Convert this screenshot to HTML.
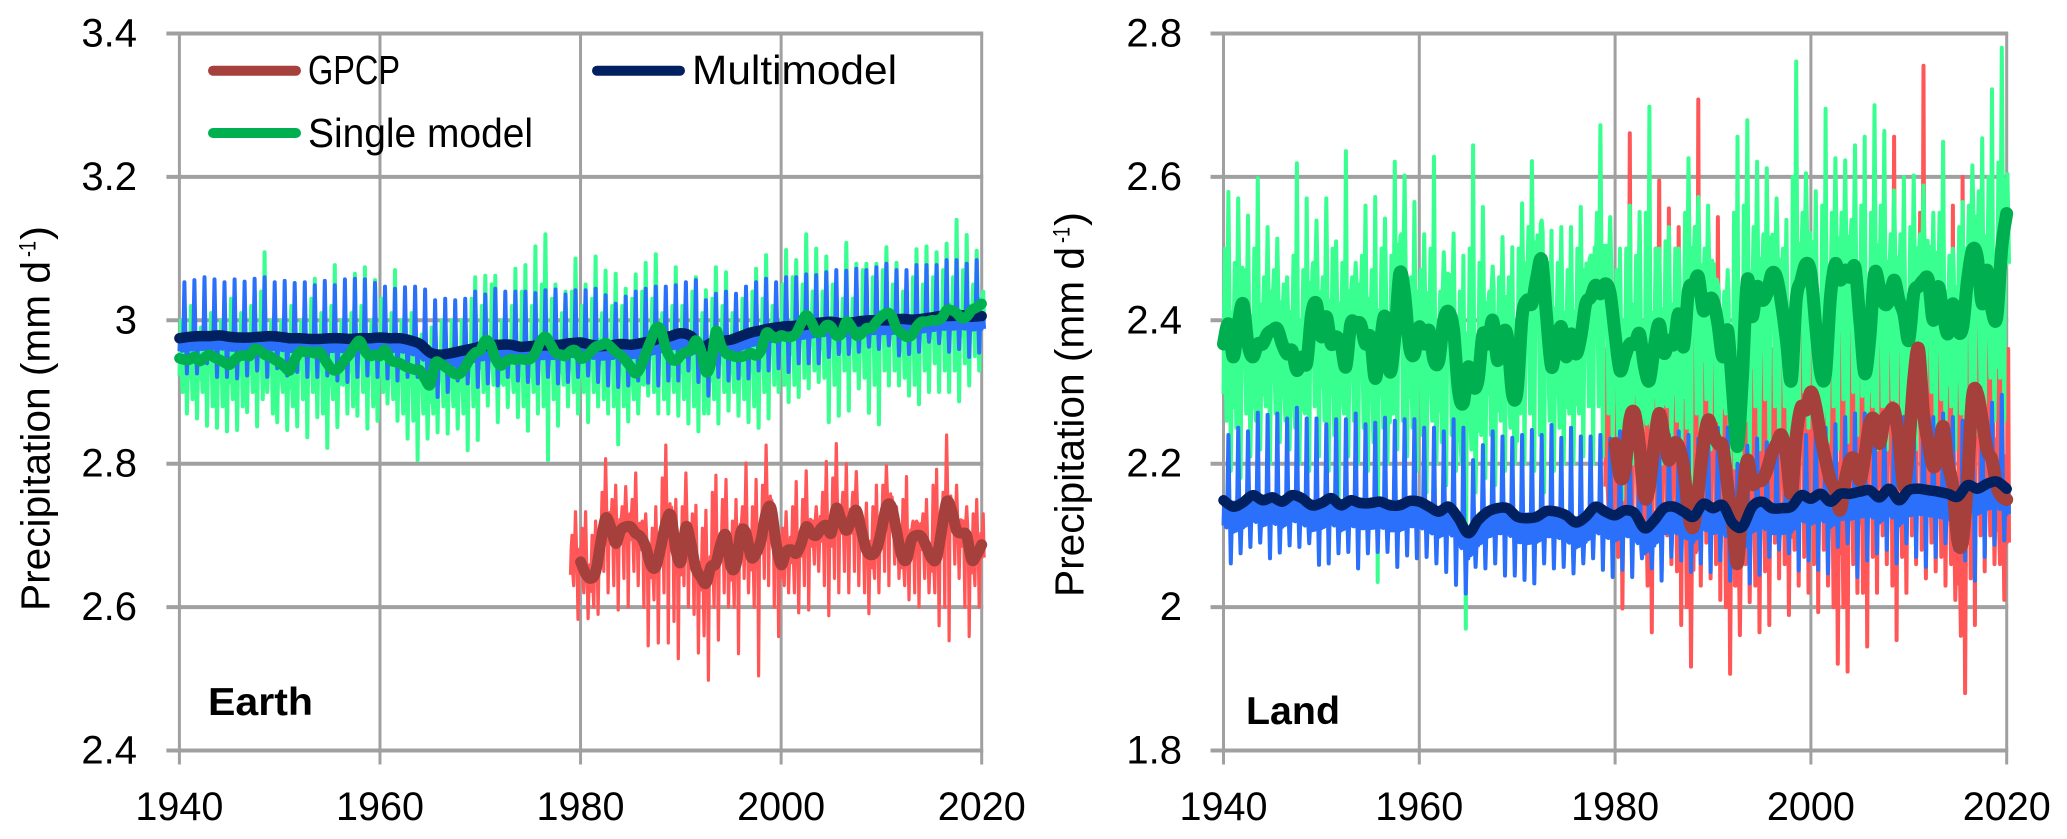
<!DOCTYPE html>
<html lang="en">
<head>
<meta charset="utf-8">
<title>Precipitation: Earth and Land</title>
<style>
html,body{margin:0;padding:0;background:#fff;}
svg{display:block;}
text{font-family:"Liberation Sans",Arial,sans-serif;fill:#000;}
</style>
</head>
<body>
<svg id="chart" xmlns="http://www.w3.org/2000/svg" width="2067" height="839" viewBox="0 0 2067 839">
  <g id="earth-panel"></g>
  <g id="land-panel"></g>
  <g>
    <line x1="213" y1="70.7" x2="296" y2="70.7" stroke="#A5403C" stroke-width="10" stroke-linecap="round"/>
    <text x="308" y="84" font-size="41" textLength="92" lengthAdjust="spacingAndGlyphs">GPCP</text>
    <line x1="597" y1="70.7" x2="680" y2="70.7" stroke="#002060" stroke-width="10" stroke-linecap="round"/>
    <text x="692" y="84" font-size="41" textLength="205" lengthAdjust="spacingAndGlyphs">Multimodel</text>
    <line x1="213" y1="133" x2="296" y2="133" stroke="#00B050" stroke-width="10" stroke-linecap="round"/>
    <text x="308" y="147" font-size="41" textLength="225" lengthAdjust="spacingAndGlyphs">Single model</text>
  </g>
  <text x="208" y="715" font-size="39" font-weight="bold" textLength="105" lengthAdjust="spacingAndGlyphs">Earth</text>
  <text x="1246" y="724" font-size="39" font-weight="bold" textLength="94" lengthAdjust="spacingAndGlyphs">Land</text>
  <g transform="translate(49.5,611) rotate(-90)">
    <text x="0" y="0" font-size="41" textLength="350" lengthAdjust="spacingAndGlyphs">Precipitation (mm d</text>
    <text x="354" y="-14" font-size="24" textLength="16" lengthAdjust="spacingAndGlyphs">-1</text>
    <text x="371" y="0" font-size="41" textLength="14" lengthAdjust="spacingAndGlyphs">)</text>
  </g>
  <g transform="translate(1083.5,597) rotate(-90)">
    <text x="0" y="0" font-size="41" textLength="350" lengthAdjust="spacingAndGlyphs">Precipitation (mm d</text>
    <text x="354" y="-14" font-size="24" textLength="16" lengthAdjust="spacingAndGlyphs">-1</text>
    <text x="371" y="0" font-size="41" textLength="14" lengthAdjust="spacingAndGlyphs">)</text>
  </g>
</svg>
<script>
// ---- Axis tick labels ----
const xTickYears = [1940, 1960, 1980, 2000, 2020];
const earthYTicks = [2.4, 2.6, 2.8, 3, 3.2, 3.4];
const landYTicks = [1.8, 2, 2.2, 2.4, 2.6, 2.8];

// ---- EARTH: smoothed series ----
// Multimodel, one value per year from 1940
const earthMultimodelSmooth = [
2.975,2.977,2.978,2.978,2.979,2.977,2.976,2.976,2.977,2.978,
2.977,2.975,2.975,2.974,2.974,2.975,2.975,2.974,2.975,2.975,
2.976,2.975,2.975,2.972,2.967,2.955,2.952,2.954,2.957,2.96,
2.963,2.965,2.966,2.966,2.963,2.964,2.965,2.965,2.966,2.968,
2.969,2.966,2.964,2.965,2.967,2.966,2.968,2.971,2.975,2.978,
2.982,2.978,2.962,2.968,2.971,2.973,2.978,2.983,2.986,2.989,
2.991,2.992,2.993,2.995,2.997,2.998,2.996,2.997,2.999,3.0,
3.0,3.0,3.002,3.001,3.002,3.004,3.006,3.006,3.007,3.005,3.006];
// Single model, two values per year from 1940
const earthSingleSmooth = [
2.947,2.945,2.945,2.949,2.943,2.948,2.952,2.948,2.945,2.941,2.938,2.945,2.95,2.951,2.95,2.96,2.958,2.952,2.95,2.945,
2.941,2.935,2.93,2.945,2.956,2.956,2.956,2.954,2.956,2.945,2.935,2.93,2.935,2.945,2.953,2.965,2.971,2.957,2.95,2.952,
2.95,2.959,2.945,2.942,2.94,2.936,2.933,2.931,2.93,2.918,2.91,2.94,2.94,2.935,2.93,2.925,2.926,2.935,2.947,2.955,
2.958,2.972,2.967,2.947,2.937,2.942,2.946,2.945,2.946,2.945,2.946,2.955,2.97,2.977,2.967,2.955,2.952,2.95,2.957,2.958,
2.947,2.949,2.956,2.963,2.965,2.968,2.963,2.956,2.951,2.944,2.935,2.926,2.935,2.954,2.972,2.989,2.987,2.961,2.947,2.944,
2.951,2.956,2.958,2.972,2.958,2.928,2.94,2.985,2.965,2.954,2.951,2.949,2.949,2.951,2.954,2.951,2.958,2.982,2.979,2.975,
2.979,2.977,2.977,2.982,2.996,3.007,2.998,2.984,2.984,2.993,2.991,2.979,2.981,2.998,2.991,2.979,2.981,2.989,2.989,2.998,
3.005,3.01,3.007,2.989,2.982,2.977,2.979,2.991,2.998,2.998,3.0,3.0,3.003,3.014,3.014,3.01,3.003,3.005,3.014,3.018,3.023];
// GPCP, two values per year from 1980
const earthGpcpSmooth = [
2.663,2.647,2.64,2.649,2.689,2.724,2.712,2.689,2.707,2.712,2.712,2.703,2.698,2.684,2.659,2.656,2.684,2.717,2.728,2.68,
2.663,2.712,2.689,2.654,2.642,2.633,2.656,2.661,2.689,2.7,2.656,2.659,2.705,2.703,2.67,2.675,2.694,2.731,2.738,2.689,
2.659,2.677,2.68,2.675,2.689,2.712,2.703,2.7,2.71,2.714,2.703,2.738,2.721,2.707,2.721,2.735,2.707,2.68,2.673,2.68,
2.707,2.74,2.74,2.707,2.673,2.666,2.694,2.7,2.698,2.684,2.668,2.668,2.707,2.747,2.735,2.707,2.703,2.7,2.666,2.673,2.687];

// ---- EARTH: monthly extremes, per year ----
const earthMultimodelHigh = [
3.053,3.056,3.06,3.057,3.053,3.057,3.054,3.058,3.06,3.053,3.055,3.052,3.053,3.049,3.055,3.049,3.057,3.058,3.057,3.052,
3.047,3.044,3.046,3.047,3.043,3.028,3.03,3.028,3.03,3.04,3.036,3.044,3.04,3.04,3.04,3.038,3.042,3.043,3.036,3.042,
3.042,3.044,3.035,3.023,3.033,3.04,3.044,3.047,3.047,3.049,3.053,3.056,3.028,3.037,3.04,3.037,3.047,3.053,3.058,3.053,
3.06,3.06,3.064,3.063,3.067,3.07,3.069,3.072,3.07,3.074,3.079,3.07,3.07,3.077,3.077,3.077,3.084,3.084,3.079,3.084,3.077];
const earthMultimodelLow = [
2.926,2.926,2.94,2.921,2.921,2.919,2.923,2.93,2.921,2.933,2.923,2.928,2.921,2.921,2.923,2.916,2.914,2.921,2.923,2.921,
2.919,2.916,2.921,2.921,2.914,2.893,2.9,2.916,2.912,2.907,2.912,2.909,2.921,2.916,2.914,2.912,2.921,2.912,2.914,2.921,
2.923,2.914,2.909,2.907,2.909,2.916,2.913,2.909,2.916,2.916,2.93,2.914,2.895,2.921,2.916,2.919,2.919,2.93,2.93,2.933,
2.928,2.94,2.94,2.94,2.949,2.953,2.953,2.956,2.963,2.96,2.965,2.951,2.953,2.956,2.97,2.968,2.956,2.96,2.949,2.955,2.97];
const earthSingleHigh = [
3.02,3.0,3.0,3.016,3.012,3.005,3.014,3.033,3.095,3.0,3.01,3.0,3.0,3.058,3.02,3.077,3.02,3.065,3.074,3.056,
3.02,3.07,3.02,3.0,3.0,3.005,3.0,3.0,3.024,3.06,3.062,3.062,3.004,3.072,3.077,3.103,3.12,3.05,3.04,3.086,
3.05,3.089,3.069,3.065,3.044,3.064,3.08,3.092,3.02,3.074,3.03,3.06,3.042,3.074,3.067,3.02,3.02,3.072,3.091,3.037,
3.098,3.084,3.12,3.1,3.089,3.04,3.108,3.079,3.079,3.079,3.102,3.08,3.047,3.099,3.103,3.095,3.107,3.14,3.119,3.097,3.06];
const earthSingleHigh2 = [
3.0,3.02,2.99,3.01,3.0,3.03,3.01,3.02,3.04,3.0,3.0,3.02,3.0,3.03,3.01,3.02,3.0,3.01,3.02,3.0,
3.03,3.01,3.0,3.01,2.98,2.99,3.0,3.0,3.0,3.03,3.02,3.05,3.0,3.02,3.04,3.02,3.05,3.03,3.01,3.04,
3.02,3.03,3.01,3.02,3.02,3.03,3.04,3.03,3.01,3.02,3.02,3.04,3.01,3.03,3.02,3.01,3.03,3.04,3.03,3.02,
3.05,3.06,3.05,3.04,3.04,3.05,3.03,3.03,3.07,3.06,3.07,3.05,3.04,3.06,3.05,3.06,3.07,3.06,3.07,3.05,3.04];
const earthSingleLow = [
2.87,2.863,2.853,2.85,2.845,2.847,2.872,2.852,2.9,2.858,2.847,2.852,2.837,2.865,2.822,2.851,2.87,2.867,2.849,2.86,
2.884,2.86,2.835,2.805,2.835,2.844,2.842,2.849,2.819,2.833,2.881,2.858,2.879,2.865,2.846,2.87,2.805,2.853,2.88,2.87,
2.858,2.88,2.87,2.827,2.859,2.87,2.895,2.87,2.87,2.867,2.856,2.845,2.87,2.856,2.874,2.867,2.858,2.85,2.863,2.9,
2.886,2.893,2.905,2.914,2.858,2.867,2.874,2.905,2.871,2.855,2.909,2.909,2.895,2.883,2.9,2.9,2.9,2.887,2.909,2.93,2.937];
const earthSingleLow2 = [
2.9,2.89,2.9,2.88,2.88,2.89,2.88,2.9,2.89,2.87,2.9,2.88,2.89,2.9,2.87,2.89,2.91,2.88,2.9,2.88,
2.9,2.89,2.87,2.86,2.87,2.87,2.88,2.88,2.87,2.88,2.9,2.91,2.91,2.9,2.88,2.9,2.88,2.89,2.91,2.9,
2.9,2.9,2.89,2.88,2.88,2.89,2.91,2.9,2.89,2.9,2.89,2.88,2.87,2.89,2.9,2.9,2.89,2.88,2.9,2.91,
2.91,2.91,2.92,2.93,2.92,2.91,2.93,2.93,2.92,2.91,2.93,2.93,2.92,2.91,2.93,2.94,2.93,2.93,2.94,2.95,2.95];
// GPCP extremes, per year from 1979
const earthGpcpHigh = [
2.733,2.733,2.72,2.807,2.77,2.768,2.787,2.73,2.74,2.826,2.75,2.787,2.742,2.735,2.784,2.778,2.75,2.801,2.778,2.826,2.73,
2.733,2.775,2.79,2.74,2.803,2.828,2.8,2.789,2.745,2.77,2.797,2.74,2.782,2.72,2.75,2.792,2.84,2.77,2.74,2.75,2.75];
const earthGpcpHigh2 = [
2.7,2.71,2.7,2.76,2.75,2.74,2.75,2.72,2.71,2.78,2.72,2.74,2.73,2.71,2.76,2.75,2.72,2.74,2.74,2.77,2.72,
2.71,2.74,2.75,2.72,2.76,2.78,2.76,2.76,2.72,2.74,2.77,2.73,2.75,2.72,2.73,2.77,2.76,2.73,2.72,2.73,2.73];
const earthGpcpLow = [
2.583,2.584,2.59,2.62,2.596,2.6,2.63,2.546,2.55,2.55,2.528,2.6,2.536,2.498,2.554,2.6,2.535,2.62,2.504,2.63,2.559,
2.62,2.592,2.596,2.65,2.588,2.62,2.62,2.63,2.591,2.62,2.63,2.64,2.61,2.6,2.62,2.574,2.553,2.64,2.559,2.6,2.603];
const earthGpcpLow2 = [
2.63,2.62,2.6,2.65,2.63,2.64,2.65,2.6,2.61,2.62,2.58,2.63,2.59,2.56,2.6,2.62,2.6,2.64,2.6,2.64,2.6,
2.63,2.62,2.63,2.66,2.63,2.64,2.65,2.65,2.62,2.64,2.65,2.66,2.63,2.62,2.64,2.62,2.6,2.66,2.6,2.63,2.62];

// ---- LAND: smoothed series ----
const landMultimodelSmooth = [
2.149,2.14,2.146,2.156,2.149,2.153,2.147,2.156,2.152,2.142,2.145,2.152,2.142,2.149,2.145,2.145,2.147,2.142,2.142,2.148,
2.147,2.14,2.133,2.14,2.124,2.103,2.121,2.133,2.138,2.138,2.126,2.124,2.126,2.134,2.133,2.128,2.118,2.126,2.14,2.133,
2.128,2.135,2.131,2.11,2.121,2.138,2.14,2.133,2.126,2.144,2.138,2.142,2.117,2.112,2.14,2.147,2.138,2.138,2.14,2.156,
2.151,2.158,2.147,2.158,2.158,2.161,2.163,2.153,2.165,2.149,2.163,2.165,2.163,2.161,2.158,2.154,2.17,2.165,2.172,2.175,2.165];
const landSingleSmooth = [
2.367,2.395,2.349,2.395,2.423,2.367,2.349,2.367,2.367,2.381,2.386,2.388,2.367,2.353,2.358,2.33,2.349,2.34,2.409,2.423,
2.377,2.405,2.367,2.377,2.367,2.335,2.395,2.395,2.395,2.367,2.377,2.319,2.367,2.405,2.328,2.377,2.465,2.437,2.363,2.353,
2.391,2.367,2.386,2.344,2.344,2.4,2.412,2.386,2.302,2.285,2.335,2.307,2.316,2.381,2.367,2.4,2.344,2.381,2.377,2.298,
2.302,2.405,2.428,2.423,2.46,2.484,2.405,2.335,2.367,2.391,2.349,2.381,2.353,2.377,2.423,2.432,2.449,2.437,2.451,2.437,
2.38,2.33,2.349,2.367,2.367,2.381,2.335,2.316,2.363,2.395,2.354,2.372,2.367,2.409,2.363,2.442,2.447,2.461,2.414,2.428,
2.428,2.395,2.349,2.386,2.302,2.224,2.32,2.456,2.405,2.447,2.428,2.437,2.465,2.46,2.423,2.372,2.316,2.428,2.456,2.479,
2.465,2.391,2.326,2.326,2.433,2.479,2.456,2.47,2.46,2.474,2.4,2.326,2.372,2.465,2.447,2.423,2.428,2.456,2.428,2.409,
2.372,2.437,2.447,2.456,2.456,2.4,2.447,2.409,2.381,2.423,2.386,2.39,2.456,2.498,2.488,2.423,2.47,2.414,2.405,2.502,2.549];
const landGpcpSmooth = [
2.228,2.182,2.191,2.261,2.27,2.224,2.154,2.168,2.228,2.27,2.238,2.205,2.228,2.224,2.196,2.13,2.112,2.163,2.224,2.261,
2.242,2.228,2.224,2.168,2.117,2.061,2.149,2.205,2.172,2.177,2.177,2.191,2.214,2.228,2.24,2.21,2.158,2.238,2.279,2.275,
2.3,2.279,2.238,2.205,2.177,2.163,2.135,2.177,2.205,2.205,2.177,2.21,2.256,2.261,2.228,2.261,2.27,2.275,2.233,2.168,
2.224,2.317,2.36,2.27,2.228,2.196,2.21,2.252,2.2,2.168,2.093,2.093,2.177,2.293,2.298,2.261,2.219,2.205,2.168,2.154,2.15];

// ---- LAND: monthly extremes, per year ----
const landMultimodelHigh = [
2.24,2.25,2.245,2.271,2.268,2.27,2.263,2.278,2.263,2.263,2.255,2.262,2.262,2.27,2.255,2.257,2.264,2.26,2.262,2.262,
2.25,2.25,2.245,2.262,2.25,2.205,2.226,2.245,2.238,2.236,2.24,2.247,2.24,2.254,2.236,2.25,2.238,2.238,2.24,2.235,
2.245,2.245,2.23,2.22,2.235,2.24,2.245,2.24,2.235,2.25,2.25,2.25,2.2,2.225,2.235,2.23,2.24,2.24,2.245,2.24,
2.25,2.25,2.255,2.265,2.27,2.27,2.268,2.262,2.262,2.265,2.27,2.27,2.265,2.27,2.265,2.26,2.275,2.29,2.285,2.296,2.27];
const landMultimodelLow = [
2.061,2.075,2.084,2.09,2.068,2.076,2.086,2.084,2.089,2.059,2.061,2.075,2.077,2.054,2.075,2.077,2.077,2.056,2.072,2.068,
2.07,2.061,2.049,2.031,2.019,2.056,2.054,2.061,2.044,2.044,2.038,2.033,2.061,2.054,2.056,2.047,2.061,2.068,2.052,2.042,
2.052,2.042,2.068,2.054,2.037,2.07,2.065,2.049,2.061,2.049,2.065,2.037,2.07,2.033,2.045,2.07,2.08,2.075,2.051,2.065,
2.052,2.047,2.084,2.089,2.042,2.065,2.075,2.08,2.061,2.089,2.07,2.056,2.07,2.089,2.08,2.065,2.037,2.07,2.087,2.093,2.1];
const landSingleHigh = [
2.579,2.57,2.546,2.598,2.53,2.514,2.46,2.619,2.57,2.539,2.57,2.51,2.636,2.48,2.56,2.572,2.542,2.621,2.602,2.565,
2.52,2.628,2.495,2.521,2.49,2.644,2.558,2.475,2.516,2.502,2.563,2.622,2.539,2.525,2.53,2.53,2.558,2.49,2.672,2.544,
2.5,2.56,2.551,2.698,2.5,2.53,2.5,2.626,2.572,2.56,2.45,2.47,2.656,2.679,2.621,2.612,2.57,2.54,2.761,2.605,
2.58,2.695,2.626,2.623,2.644,2.656,2.7,2.664,2.581,2.6,2.602,2.588,2.55,2.649,2.5,2.565,2.616,2.654,2.722,2.78,2.63];
const landSingleHigh2 = [
2.5,2.48,2.47,2.5,2.46,2.47,2.45,2.49,2.47,2.48,2.46,2.5,2.48,2.46,2.49,2.47,2.5,2.49,2.52,2.46,
2.47,2.5,2.44,2.46,2.44,2.5,2.48,2.44,2.46,2.46,2.5,2.53,2.5,2.48,2.48,2.47,2.5,2.47,2.55,2.5,
2.47,2.5,2.49,2.55,2.5,2.51,2.5,2.55,2.53,2.5,2.45,2.44,2.55,2.56,2.53,2.52,2.51,2.5,2.6,2.55,
2.5,2.56,2.55,2.55,2.54,2.56,2.55,2.56,2.52,2.52,2.53,2.52,2.5,2.55,2.49,2.53,2.56,2.58,2.6,2.62,2.55];
const landSingleLow = [
2.19,2.18,2.21,2.22,2.2,2.23,2.22,2.2,2.19,2.21,2.19,2.1,2.21,2.2,2.19,2.035,2.2,2.22,2.21,2.19,
2.16,2.2,2.17,2.19,1.97,2.16,2.18,2.17,2.19,2.2,2.2,2.19,2.16,2.19,2.2,2.2,2.21,2.2,2.21,2.2,
2.15,2.2,2.21,2.19,2.2,2.22,2.2,2.16,2.2,2.22,2.2,2.2,2.15,2.2,2.22,2.23,2.22,2.22,2.2,2.25,
2.24,2.23,2.22,2.23,2.24,2.24,2.22,2.22,2.24,2.2,2.22,2.24,2.24,2.24,2.22,2.2,2.24,2.25,2.26,2.26,2.3];
const landSingleLow2 = [
2.26,2.25,2.27,2.26,2.28,2.27,2.26,2.25,2.27,2.28,2.26,2.24,2.27,2.26,2.25,2.23,2.25,2.27,2.26,2.25,
2.24,2.26,2.23,2.24,2.2,2.22,2.24,2.24,2.26,2.25,2.27,2.27,2.24,2.26,2.25,2.27,2.27,2.28,2.28,2.27,
2.24,2.26,2.27,2.26,2.27,2.28,2.26,2.25,2.27,2.29,2.26,2.27,2.22,2.26,2.28,2.29,2.28,2.28,2.27,2.3,
2.29,2.29,2.28,2.29,2.3,2.3,2.28,2.28,2.29,2.27,2.28,2.3,2.3,2.29,2.28,2.27,2.3,2.31,2.32,2.32,2.36];
const landGpcpHigh = [
2.4,2.48,2.661,2.535,2.45,2.595,2.556,2.53,2.48,2.708,2.47,2.544,2.46,2.46,2.56,2.47,2.56,2.42,2.5,2.635,2.59,
2.535,2.45,2.42,2.46,2.5,2.48,2.5,2.6,2.656,2.48,2.5,2.755,2.5,2.5,2.56,2.6,2.58,2.58,2.55,2.45,2.4];
const landGpcpHigh2 = [
2.36,2.4,2.5,2.45,2.38,2.5,2.47,2.45,2.4,2.53,2.4,2.45,2.38,2.4,2.46,2.38,2.44,2.36,2.42,2.5,2.47,
2.44,2.38,2.37,2.4,2.42,2.4,2.42,2.46,2.5,2.42,2.43,2.55,2.42,2.42,2.46,2.47,2.47,2.47,2.45,2.38,2.36];
const landGpcpLow = [
2.1,1.998,2.08,2.07,1.965,2.05,2.06,1.975,1.917,2.03,2.04,2.01,1.907,1.961,2.007,1.965,1.975,2.04,1.989,2.03,2.02,
1.993,2.03,1.921,1.91,2.02,1.945,2.02,2.06,1.954,2.02,2.06,2.04,2.05,2.03,2.01,1.88,1.975,2.05,2.06,2.01,2.03];
const landGpcpLow2 = [
2.14,2.07,2.12,2.12,2.03,2.1,2.1,2.05,2.0,2.08,2.09,2.06,2.0,2.03,2.06,2.03,2.05,2.09,2.06,2.08,2.07,
2.06,2.08,2.0,2.0,2.06,2.02,2.07,2.1,2.03,2.07,2.1,2.08,2.09,2.07,2.06,1.96,2.04,2.1,2.1,2.06,2.08];

const SVGNS = 'http://www.w3.org/2000/svg';

function makeAxes(left, right, top, bottom, yMin, yMax) {
  return {
    x: function (year) { return left + (year - 1940) * (right - left) / 80; },
    y: function (v) { return bottom - (v - yMin) * (bottom - top) / (yMax - yMin); }
  };
}

function valueAt(arr, start, step, t) {
  const p = (t - start) / step;
  if (p <= 0) return arr[0];
  if (p >= arr.length - 1) return arr[arr.length - 1];
  const i = Math.floor(p);
  return arr[i] + (arr[i + 1] - arr[i]) * (p - i);
}

// Thin monthly trace: fills a band around the smooth series and spikes to the annual extremes.
function thinPath(ax, s) {
  let d = '';
  let first = true;
  for (let i = 0; i < s.high.length; i++) {
    const yr = s.startYear + i;
    const steps = [
      [0.00, 'lo'], [0.07, 'hi'], [0.15, 'h2'], [0.24, 'lo'], [0.32, 'l2'], [0.40, 'hi'],
      [0.50, 'h1'], [0.60, 'hi'], [0.68, 'lo'], [0.75, 'l1'], [0.83, 'lo'], [0.92, 'hi']
    ];
    for (let k = 0; k < steps.length; k++) {
      const t = yr + steps[k][0];
      if (yr === 2020 && steps[k][0] > 0.25) continue;
      const m = valueAt(s.mean, s.meanStart, s.meanStep, t);
      const hi = m + s.up;
      const lo = m - s.down;
      const kind = steps[k][1];
      let v = hi;
      if (kind === 'lo') v = lo;
      if (kind === 'h1') v = s.high[i];
      if (kind === 'l1') v = s.low[i];
      if (kind === 'h2') v = s.high2 ? s.high2[i] : hi;
      if (kind === 'l2') v = s.low2 ? s.low2[i] : lo;
      d += (first ? 'M' : 'L') + ax.x(t).toFixed(1) + ' ' + ax.y(v).toFixed(1);
      first = false;
    }
  }
  return d;
}

// Thick smoothed trace, drawn through its values with a Catmull-Rom curve.
function smoothPath(ax, arr, start, step) {
  const pts = arr.map(function (v, i) { return [ax.x(start + i * step), ax.y(v)]; });
  let d = 'M' + pts[0][0].toFixed(1) + ' ' + pts[0][1].toFixed(1);
  for (let i = 0; i < pts.length - 1; i++) {
    const p0 = pts[Math.max(0, i - 1)], p1 = pts[i], p2 = pts[i + 1], p3 = pts[Math.min(pts.length - 1, i + 2)];
    const c1x = p1[0] + (p2[0] - p0[0]) / 6, c1y = p1[1] + (p2[1] - p0[1]) / 6;
    const c2x = p2[0] - (p3[0] - p1[0]) / 6, c2y = p2[1] - (p3[1] - p1[1]) / 6;
    d += 'C' + c1x.toFixed(1) + ' ' + c1y.toFixed(1) + ' ' + c2x.toFixed(1) + ' ' + c2y.toFixed(1) + ' ' + p2[0].toFixed(1) + ' ' + p2[1].toFixed(1);
  }
  return d;
}

function drawGrid(g, ax, cfg) {
  xTickYears.forEach(function (yr) {
    const line = document.createElementNS(SVGNS, 'line');
    
    
    line.setAttribute('x1', ax.x(yr));
    line.setAttribute('x2', ax.x(yr));
    line.setAttribute('y1', cfg.top);
    line.setAttribute('y2', cfg.bottom + 14);
    line.setAttribute('stroke', '#a0a0a0');
    line.setAttribute('stroke-width', '3');
    g.appendChild(line);
    const label = document.createElementNS(SVGNS, 'text');
    
    
    label.setAttribute('x', ax.x(yr));
    label.setAttribute('y', 820);
    label.setAttribute('font-size', '40');
    label.setAttribute('text-anchor', 'middle');
    label.setAttribute('textLength', '88');
    label.setAttribute('lengthAdjust', 'spacingAndGlyphs');
    label.textContent = String(yr);
    g.appendChild(label);
  });
  cfg.yTicks.forEach(function (v) {
    const line = document.createElementNS(SVGNS, 'line');
    
    
    line.setAttribute('x1', cfg.left - 13);
    line.setAttribute('x2', cfg.right + 1.5);
    line.setAttribute('y1', ax.y(v));
    line.setAttribute('y2', ax.y(v));
    line.setAttribute('stroke', '#a0a0a0');
    line.setAttribute('stroke-width', '4');
    g.appendChild(line);
    const label = document.createElementNS(SVGNS, 'text');
    
    
    label.setAttribute('x', cfg.labelRight);
    label.setAttribute('y', ax.y(v) + 13);
    label.setAttribute('font-size', '40');
    label.setAttribute('text-anchor', 'end');
    label.textContent = String(v);
    g.appendChild(label);
  });
}

function drawThin(g, ax, name, color, width, s) {
  const p = document.createElementNS(SVGNS, 'path');
  
  
  p.setAttribute('d', thinPath(ax, s));
  p.setAttribute('fill', 'none');
  p.setAttribute('stroke', color);
  p.setAttribute('stroke-width', width);
  p.setAttribute('stroke-linejoin', 'round');
  g.appendChild(p);
}

function drawSmooth(g, ax, name, color, width, arr, start, step) {
  const p = document.createElementNS(SVGNS, 'path');
  
  
  p.setAttribute('d', smoothPath(ax, arr, start, step));
  p.setAttribute('fill', 'none');
  p.setAttribute('stroke', color);
  p.setAttribute('stroke-width', width);
  p.setAttribute('stroke-linejoin', 'round');
  p.setAttribute('stroke-linecap', 'round');
  g.appendChild(p);
}

const RED = '#FF5757', MINT = '#38FF90', BLUE = '#2A70FA';
const DARKRED = '#A5403C', NAVY = '#002060', GREEN = '#00B050';

// Earth panel
(function () {
  const cfg = { left: 179.4, right: 981.7, top: 33.5, bottom: 750.5, yTicks: earthYTicks, labelRight: 137 };
  const ax = makeAxes(cfg.left, cfg.right, cfg.top, cfg.bottom, 2.4, 3.4);
  const g = document.getElementById('earth-panel');
  drawGrid(g, ax, cfg);
  drawThin(g, ax, 'earth-gpcp-monthly-line', RED, 3.2, {
    startYear: 1979, high: earthGpcpHigh, high2: earthGpcpHigh2, low: earthGpcpLow, low2: earthGpcpLow2,
    mean: earthGpcpSmooth, meanStart: 1980, meanStep: 0.5, up: 0.018, down: 0.018 });
  drawThin(g, ax, 'earth-single-model-monthly-line', MINT, 4, {
    startYear: 1940, high: earthSingleHigh, high2: earthSingleHigh2, low: earthSingleLow, low2: earthSingleLow2,
    mean: earthSingleSmooth, meanStart: 1940, meanStep: 0.5, up: 0.008, down: 0.024 });
  drawThin(g, ax, 'earth-multimodel-monthly-line', BLUE, 4, {
    startYear: 1940, high: earthMultimodelHigh, high2: null, low: earthMultimodelLow, low2: null,
    mean: earthMultimodelSmooth, meanStart: 1940, meanStep: 1, up: 0.002, down: 0.018 });
  drawSmooth(g, ax, 'earth-gpcp-smoothed-line', DARKRED, 11, earthGpcpSmooth, 1980, 0.5);
  drawSmooth(g, ax, 'earth-multimodel-smoothed-line', NAVY, 10.5, earthMultimodelSmooth, 1940, 1);
  drawSmooth(g, ax, 'earth-single-model-smoothed-line', GREEN, 10.5, earthSingleSmooth, 1940, 0.5);
})();

// Land panel
(function () {
  const cfg = { left: 1223.5, right: 2006.7, top: 33.5, bottom: 750.5, yTicks: landYTicks, labelRight: 1182 };
  const ax = makeAxes(cfg.left, cfg.right, cfg.top, cfg.bottom, 1.8, 2.8);
  const g = document.getElementById('land-panel');
  drawGrid(g, ax, cfg);
  drawThin(g, ax, 'land-gpcp-monthly-line', RED, 4, {
    startYear: 1979, high: landGpcpHigh, high2: landGpcpHigh2, low: landGpcpLow, low2: landGpcpLow2,
    mean: landGpcpSmooth, meanStart: 1980, meanStep: 0.5, up: 0.06, down: 0.06 });
  drawThin(g, ax, 'land-single-model-monthly-line', MINT, 4, {
    startYear: 1940, high: landSingleHigh, high2: landSingleHigh2, low: landSingleLow, low2: landSingleLow2,
    mean: landSingleSmooth, meanStart: 1940, meanStep: 0.5, up: 0.055, down: 0.07 });
  drawThin(g, ax, 'land-multimodel-monthly-line', BLUE, 4, {
    startYear: 1940, high: landMultimodelHigh, high2: null, low: landMultimodelLow, low2: null,
    mean: landMultimodelSmooth, meanStart: 1940, meanStep: 1, up: 0.005, down: 0.035 });
  drawSmooth(g, ax, 'land-single-model-smoothed-line', GREEN, 13, landSingleSmooth, 1940, 0.5);
  drawSmooth(g, ax, 'land-gpcp-smoothed-line', DARKRED, 13, landGpcpSmooth, 1980, 0.5);
  drawSmooth(g, ax, 'land-multimodel-smoothed-line', NAVY, 10.5, landMultimodelSmooth, 1940, 1);
})();
</script>
</body>
</html>
